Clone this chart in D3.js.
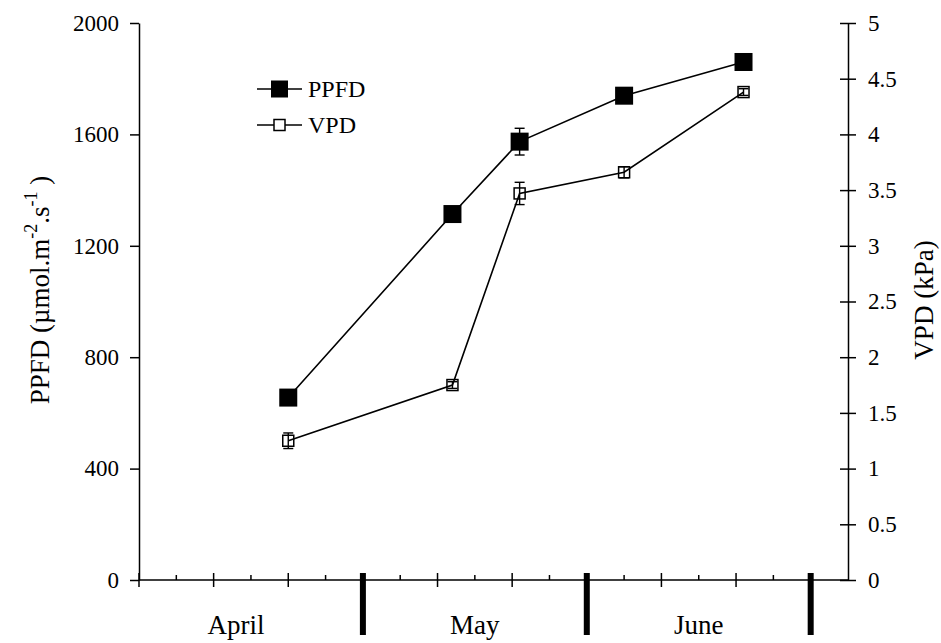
<!DOCTYPE html>
<html>
<head>
<meta charset="utf-8">
<script src="https://d3js.org/d3.v7.min.js"></script>
<style>
    body { margin: 0; background: #fff; }
    svg text { font-family: "Liberation Serif", "Times New Roman", serif; fill: #000; }
    .axis path, .axis line { stroke: #000; stroke-width: 1.5px; }
</style>
</head>
<body>
<script>

    // sampling dates, in days from 1 April
    var days = [20, 42, 51, 65, 81];

    var ppfd = [655, 1314, 1574, 1739, 1860];
    var ppfdErr = [12, 15, 48, 18, 12];

    var vpd = [1.25, 1.75, 3.47, 3.66, 4.38];
    var vpdErr = [0.07, 0.03, 0.1, 0.05, 0.03];

    var months = ["April", "May", "June"];
    var monthLabelAt = [13, 45, 75];
    var monthEnds = [30, 60, 90];

    var ppfdTicks = [0, 400, 800, 1200, 1600, 2000];
    var vpdTicks = [0, 0.5, 1, 1.5, 2, 2.5, 3, 3.5, 4, 4.5, 5];

    var width = 941,
        height = 643;

    var serif = '"Liberation Serif", "Times New Roman", serif';

    var svg = d3.select("body").append("svg")
        .attr("width", width)
        .attr("height", height);

    var x = d3.scaleLinear().domain([0, 95]).range([139, 848]);
    var yL = d3.scaleLinear().domain([0, 2000]).range([580, 23]);
    var yR = d3.scaleLinear().domain([0, 5]).range([580, 23]);

    // left axis
    var gL = svg.append("g")
        .attr("class", "axis")
        .attr("transform", "translate(" + x(0) + ",0)")
        .call(d3.axisLeft(yL).tickValues(ppfdTicks).tickSize(9).tickPadding(11).tickSizeOuter(0)
            .tickFormat(d3.format("d")));
    gL.attr("font-family", null).attr("font-size", null);
    gL.selectAll("text").style("font-family", serif).style("font-size", "23px");

    // right axis, ticks cross the line
    var gR = svg.append("g")
        .attr("class", "axis")
        .attr("transform", "translate(" + x(95) + ",0)")
        .call(d3.axisRight(yR).tickValues(vpdTicks).tickSize(8).tickPadding(12).tickSizeOuter(0)
            .tickFormat(function (d) { return d; }));
    gR.attr("font-family", null).attr("font-size", null);
    gR.selectAll(".tick line").attr("x1", -8).attr("x2", 8);
    gR.selectAll("text").style("font-family", serif).style("font-size", "23px");

    // bottom axis
    var gB = svg.append("g").attr("class", "axis");
    gB.append("line")
        .attr("x1", x(0)).attr("x2", x(95))
        .attr("y1", yL(0)).attr("y2", yL(0));

    d3.range(0, 95, 5).forEach(function (d) {
        if (monthEnds.indexOf(d) >= 0) return;
        var minor = d % 10 === 5;
        gB.append("line")
            .attr("x1", x(d)).attr("x2", x(d))
            .attr("y1", yL(0) - (minor ? 5 : 7))
            .attr("y2", yL(0) + (minor ? 0 : 7));
    });

    gB.selectAll("rect.month-end")
        .data(monthEnds)
        .enter().append("rect")
        .attr("class", "month-end")
        .attr("x", function (d) { return x(d) - 3; })
        .attr("y", yL(0) - 7)
        .attr("width", 6)
        .attr("height", 62)
        .attr("fill", "#000");

    svg.selectAll("text.month")
        .data(months)
        .enter().append("text")
        .attr("class", "month")
        .attr("x", function (d, i) { return x(monthLabelAt[i]); })
        .attr("y", 634)
        .attr("text-anchor", "middle")
        .style("font-size", "27px")
        .text(function (d) { return d; });

    // axis titles
    var tL = svg.append("text")
        .attr("transform", "translate(49,290) rotate(-90)")
        .attr("text-anchor", "middle")
        .style("font-size", "27px");
    tL.append("tspan").text("PPFD (\u00b5mol.m");
    tL.append("tspan").attr("dy", -12).style("font-size", "18px").text("-2");
    tL.append("tspan").attr("dy", 12).text(".s");
    tL.append("tspan").attr("dy", -12).style("font-size", "18px").text("-1");
    tL.append("tspan").attr("dy", 12).text(" )");

    svg.append("text")
        .attr("transform", "translate(933,300) rotate(-90)")
        .attr("text-anchor", "middle")
        .style("font-size", "27px")
        .text("VPD (kPa)");

    // series
    var ppfdData = days.map(function (d, i) { return {x: d, y: ppfd[i], e: ppfdErr[i]}; });
    var vpdData = days.map(function (d, i) { return {x: d, y: vpd[i], e: vpdErr[i]}; });

    function drawSeries(data, y, filled, size) {
        var g = svg.append("g");
        g.append("path")
            .datum(data)
            .attr("fill", "none")
            .attr("stroke", "#000")
            .attr("stroke-width", 1.6)
            .attr("d", d3.line().x(function (d) { return x(d.x); }).y(function (d) { return y(d.y); }));

        var eb = g.selectAll("g.err").data(data).enter().append("g")
            .attr("stroke", "#000").attr("stroke-width", 1.4);
        eb.append("line")
            .attr("x1", function (d) { return x(d.x); })
            .attr("x2", function (d) { return x(d.x); })
            .attr("y1", function (d) { return y(d.y - d.e); })
            .attr("y2", function (d) { return y(d.y + d.e); });
        eb.append("line")
            .attr("x1", function (d) { return x(d.x) - 5; })
            .attr("x2", function (d) { return x(d.x) + 5; })
            .attr("y1", function (d) { return y(d.y + d.e); })
            .attr("y2", function (d) { return y(d.y + d.e); });
        eb.append("line")
            .attr("x1", function (d) { return x(d.x) - 5; })
            .attr("x2", function (d) { return x(d.x) + 5; })
            .attr("y1", function (d) { return y(d.y - d.e); })
            .attr("y2", function (d) { return y(d.y - d.e); });

        g.selectAll("rect").data(data).enter().append("rect")
            .attr("x", function (d) { return x(d.x) - size / 2; })
            .attr("y", function (d) { return y(d.y) - size / 2; })
            .attr("width", size)
            .attr("height", size)
            .attr("fill", filled ? "#000" : "none")
            .attr("stroke", "#000")
            .attr("stroke-width", filled ? 0 : 1.5);
    }

    drawSeries(ppfdData, yL, true, 18);
    drawSeries(vpdData, yR, false, 11);

    // legend
    var legend = [
        {name: "PPFD", filled: true, size: 17, y: 89},
        {name: "VPD", filled: false, size: 11, y: 125}
    ];
    var lg = svg.selectAll("g.legend").data(legend).enter().append("g").attr("class", "legend");
    lg.append("line")
        .attr("x1", 257).attr("x2", 302)
        .attr("y1", function (d) { return d.y; }).attr("y2", function (d) { return d.y; })
        .attr("stroke", "#000").attr("stroke-width", 1.6);
    lg.append("rect")
        .attr("x", function (d) { return 279.5 - d.size / 2; })
        .attr("y", function (d) { return d.y - d.size / 2; })
        .attr("width", function (d) { return d.size; })
        .attr("height", function (d) { return d.size; })
        .attr("fill", function (d) { return d.filled ? "#000" : "#fff"; })
        .attr("stroke", "#000")
        .attr("stroke-width", function (d) { return d.filled ? 0 : 1.5; });
    lg.append("text")
        .attr("x", 308)
        .attr("y", function (d) { return d.y + 8; })
        .style("font-size", "24px")
        .text(function (d) { return d.name; });

</script>
</body>
</html>
